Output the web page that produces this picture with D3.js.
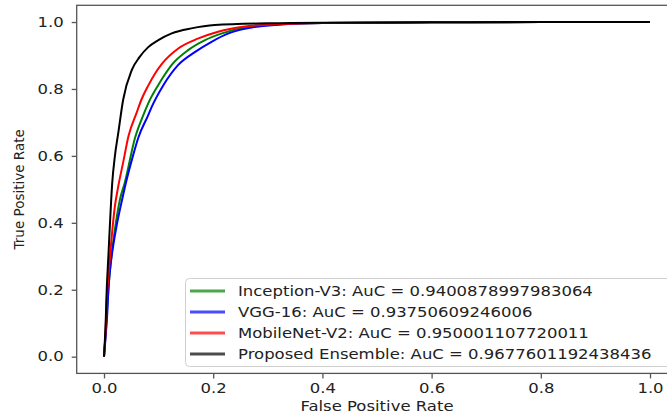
<!DOCTYPE html>
<html>
<head>
<meta charset="utf-8">
<script src="https://cdn.jsdelivr.net/npm/d3@7"></script>
<style>
  body { margin: 0; background: #fff; }
  text { font-family: "DejaVu Sans", sans-serif; fill: #222; }
</style>
</head>
<body>
<div id="chart"></div>
<script>
// Chart size
var svgWidth = 667;
var svgHeight = 418;

// ROC points (fpr / tpr per model)
var inceptionFpr = [0, 0.003, 0.006, 0.009, 0.013, 0.02, 0.029, 0.038, 0.057, 0.072, 0.081, 0.0995, 0.109, 0.124, 0.154, 0.185, 0.216, 0.267, 0.32, 0.4, 0.6, 0.8, 1];
var inceptionTpr = [0, 0.07, 0.15, 0.22, 0.29, 0.38, 0.468, 0.52, 0.655, 0.722, 0.757, 0.812, 0.837, 0.872, 0.916, 0.946, 0.966, 0.986, 0.993, 0.997, 0.999, 1, 1];

var vggFpr = [0, 0.003, 0.006, 0.008, 0.011, 0.014, 0.023, 0.033, 0.038, 0.053, 0.063, 0.081, 0.087, 0.109, 0.136, 0.167, 0.197, 0.228, 0.28, 0.33, 0.4, 0.6, 0.8, 1];
var vggTpr = [0, 0.06, 0.13, 0.2, 0.26, 0.3, 0.39, 0.468, 0.505, 0.6, 0.655, 0.722, 0.745, 0.812, 0.872, 0.911, 0.941, 0.966, 0.986, 0.993, 0.997, 0.999, 1, 1];

var mobileFpr = [0, 0.003, 0.005, 0.008, 0.011, 0.02, 0.026, 0.035, 0.045, 0.06, 0.069, 0.081, 0.095, 0.106, 0.136, 0.173, 0.209, 0.255, 0.3, 0.4, 0.6, 0.8, 1];
var mobileTpr = [0, 0.08, 0.17, 0.24, 0.3, 0.45, 0.508, 0.58, 0.66, 0.73, 0.77, 0.81, 0.85, 0.875, 0.921, 0.951, 0.971, 0.986, 0.992, 0.997, 0.999, 1, 1];

var ensembleFpr = [0, 0.003, 0.005, 0.008, 0.011, 0.015, 0.02, 0.026, 0.035, 0.051, 0.065, 0.081, 0.0995, 0.124, 0.16, 0.203, 0.3, 0.4, 0.6, 0.8, 1];
var ensembleTpr = [0, 0.1, 0.2, 0.3, 0.4, 0.518, 0.6, 0.667, 0.767, 0.857, 0.895, 0.925, 0.946, 0.966, 0.981, 0.991, 0.996, 0.998, 0.999, 1, 1];

var seriesLabels = [
  "Inception-V3: AuC = 0.9400878997983064",
  "VGG-16: AuC = 0.93750609246006",
  "MobileNet-V2: AuC = 0.950001107720011",
  "Proposed Ensemble: AuC = 0.9677601192438436"
];
var seriesColors = ["green", "blue", "red", "black"];
var tickValues = [0, 0.2, 0.4, 0.6, 0.8, 1.0];

// build series table from the arrays
var series = [
  [inceptionFpr, inceptionTpr],
  [vggFpr, vggTpr],
  [mobileFpr, mobileTpr],
  [ensembleFpr, ensembleTpr]
].map(function(s, i) {
  return {
    label: seriesLabels[i],
    color: seriesColors[i],
    points: s[0].map(function(f, j) { return [f, s[1][j]]; })
  };
});

// image is a bit wider than tall, so text is stretched sideways
var stretch = 1.22;
function widen(sel) {
  sel.each(function() {
    var w = this.getComputedTextLength();
    d3.select(this).attr("textLength", w * stretch).attr("lengthAdjust", "spacingAndGlyphs");
  });
}

var svg = d3.select("#chart")
  .append("svg")
  .attr("width", svgWidth)
  .attr("height", svgHeight);

// scales with matplotlib style 5% margins
var x = d3.scaleLinear().domain([-0.05, 1.05]).range([76.7, 677.3]);
var y = d3.scaleLinear().domain([-0.05, 1.05]).range([373.4, 5.3]);

// curves
var line = d3.line()
  .x(d => x(d[0]))
  .y(d => y(d[1]))
  .curve(d3.curveMonotoneX);

svg.append("g")
  .selectAll("path")
  .data(series)
  .enter()
  .append("path")
  .attr("d", d => line(d.points))
  .attr("fill", "none")
  .attr("stroke", d => d.color)
  .attr("stroke-width", 2)
  .attr("stroke-linejoin", "round");

// frame
svg.append("rect")
  .attr("x", x(-0.05))
  .attr("y", y(1.05))
  .attr("width", x(1.05) - x(-0.05))
  .attr("height", y(-0.05) - y(1.05))
  .attr("fill", "none")
  .attr("stroke", "#555")
  .attr("stroke-width", 1.3);

// axes
var xAxis = svg.append("g")
  .attr("transform", `translate(0, ${y(-0.05)})`)
  .call(d3.axisBottom(x).tickValues(tickValues).tickFormat(d3.format(".1f")).tickSize(5).tickPadding(5));

var yAxis = svg.append("g")
  .attr("transform", `translate(${x(-0.05)}, 0)`)
  .call(d3.axisLeft(y).tickValues(tickValues).tickFormat(d3.format(".1f")).tickSize(5).tickPadding(8));

[xAxis, yAxis].forEach(function(a) {
  a.select(".domain").remove();
  a.selectAll("line").attr("stroke", "#555").attr("stroke-width", 1.3);
  a.selectAll("text")
    .attr("font-family", "DejaVu Sans")
    .attr("font-size", 13.5)
    .attr("fill", "#222")
    .call(widen);
});

// axis labels
svg.append("text")
  .attr("x", x(0.5))
  .attr("y", 411)
  .attr("text-anchor", "middle")
  .attr("font-size", 13.5)
  .text("False Positive Rate")
  .call(widen);

svg.append("text")
  .attr("transform", `translate(24, ${(y(-0.05) + y(1.05)) / 2}) rotate(-90)`)
  .attr("text-anchor", "middle")
  .attr("font-size", 13.5)
  .text("True Positive Rate");

// legend
var legend = svg.append("g");

legend.append("rect")
  .attr("x", 185.5)
  .attr("y", 278.5)
  .attr("width", 500)
  .attr("height", 88)
  .attr("rx", 4)
  .attr("fill", "#fff")
  .attr("fill-opacity", 0.85)
  .attr("stroke", "#d0d0d0");

var rows = legend.selectAll("g.row")
  .data(series)
  .enter()
  .append("g")
  .attr("class", "row")
  .attr("transform", (d, i) => `translate(0, ${291 + i * 21})`);

rows.append("line")
  .attr("x1", 190)
  .attr("x2", 225)
  .attr("stroke", d => d.color)
  .attr("stroke-opacity", 0.7)
  .attr("stroke-width", 3);

rows.append("text")
  .attr("x", 238)
  .attr("y", 5)
  .attr("font-size", 13.5)
  .text(d => d.label)
  .call(widen);
</script>
</body>
</html>
